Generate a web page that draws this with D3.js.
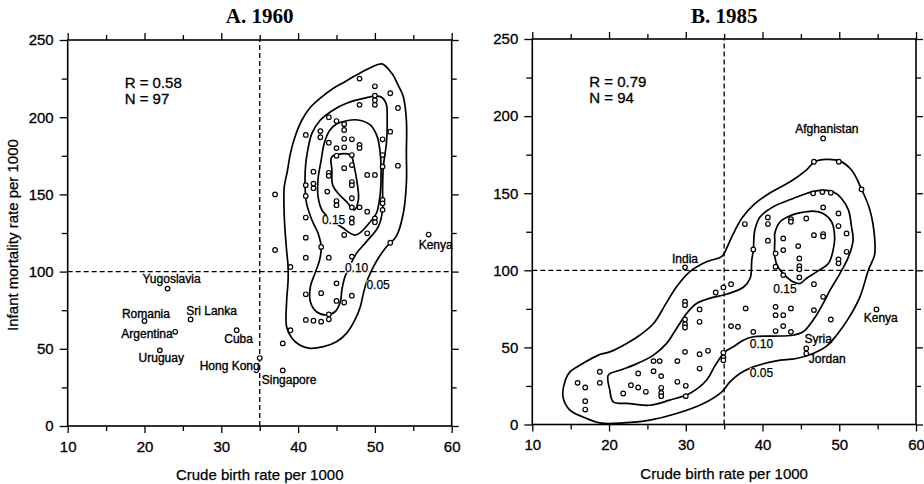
<!DOCTYPE html>
<html lang="en">
<head>
<meta charset="utf-8">
<script src="https://d3js.org/d3.v7.min.js"></script>
<style>
    body { margin: 0; background: #fff; }
    svg text { font-family: "Liberation Sans", Arial, Helvetica, sans-serif; fill: #000; }
    .title { font-family: "Liberation Serif", "Times New Roman", serif; font-weight: bold; font-size: 21px; }
    .stat { font-size: 15px; stroke: #000; stroke-width: 0.3px; }
    .axis-title { font-size: 15px; stroke: #000; stroke-width: 0.25px; }
    .tick text { stroke: #000; stroke-width: 0.3px; }
    .country { font-size: 12px; stroke: #000; stroke-width: 0.35px; }
    .level { font-size: 12px; fill: #000; stroke: #000; stroke-width: 0.25px; }
</style>
</head>
<body>
<svg id="chart" width="924" height="484"></svg>
<script>
// ---- data: [crude birth rate, infant mortality rate] ----
var pts1960 = [
    [37,150],[37,114],[38,53.5],[39,62],[39,103],
    [48,225],[50,220],[50,214],[50,211],[50,208],[52,215.5],[53,206],[48,208],
    [44,200],[45,197.5],[41,188.5],[42.9,191],[42.9,187],[46,195.5],[46,191.7],
    [44,183.5],[46,186],[47,185.7],[48,182],[48,180],[45,180],[46,180.5],
    [51,185.7],[52,190.6],[51,175.5],[53,168.6],[51,168],[45,175],[47,175.5],
    [46,167],[47,169],[42,164.7],[44,164],[44,162],[49,162.6],[50,162.6],
    [41,156],[42,154],[42,157],[41,149],[43.8,151.8],[47,158],[47,156],
    [45,145.7],[45,143],[47,147.5],[47,141.6],[48,141.6],[49,138.8],
    [51,146.4],[51,144.2],[51,140],[50,134.5],[50,132],[47,134.5],[47,131.7],
    [41,135],[46,123.7],[49,124.8],[52,118.7],[41,122],[43,116],[41,109],
    [44,109],[47,109.7],[45,92.4],[41,85.3],[43,86],[47,84.4],[45,81],[46,80],
    [44,72.3],[41,68.7],[42,68.2],[43,67.6],[44,69.1]
];
var named1960 = [
    ["Yugoslavia",23,89],["Romania",20,68],["Sri Lanka",26,69],["Argentina",24,61],
    ["Cuba",32,62],["Uruguay",22,49],["Hong Kong",35,44],["Singapore",38,36],["Kenya",57,124]
];
var pts1985 = [
    [46.7,170.4],[49.95,170.4],[52.9,152.5],[46.6,149.9],[47.8,150.7],[48.9,150.3],
    [47.9,140.8],[49.9,136.9],[37.7,130],[40.7,134.3],[40.7,130],[43.7,133.2],[43.7,131.5],
    [45.7,133.6],[49.9,128.7],[50.95,123.9],[40.7,119.2],[42.7,120.7],[44.65,115.7],
    [46.7,122.8],[47.9,123.5],[47.9,122],[38.8,113.5],[41.7,110.9],[42.7,113.1],
    [44.8,107.7],[50.95,112],[49.9,107],[49.9,104.5],[41.7,102.3],[44.8,102.7],[44.8,100.6],
    [42.7,96.9],[44.8,95.4],[46.7,91],[35.9,91],[34.9,88.9],[33.9,85.6],[47.9,82.8],
    [29.9,79.6],[29.9,77.4],[31.8,74.6],[37.8,75.3],[41.7,76.3],[43.7,75.3],[46.7,74.2],
    [41.7,70.9],[42.7,70.9],[29.9,68.1],[29.9,65.1],[29.9,62.9],[31.8,66.6],[48.9,68.1],
    [35.9,63.8],[36.8,63.4],[38.8,60.1],[41.7,60.6],[42.7,63.8],[43.7,60.1],
    [29.9,47.1],[31.8,45.6],[32.9,47.8],[34.9,46.5],[34.9,43.5],[34.9,41.7],
    [25.8,41.1],[26.6,41.1],[28.9,41.1],[31.8,36.3],[18.8,34.2],[18.8,27],[15.9,27],
    [16.9,24],[16.9,15.1],[16.9,9.7],[23.8,33.1],[25.8,34.6],[26.8,31.4],[22.85,25.5],
    [23.8,24],[24.8,21.2],[21.85,20.1],[26.8,23.8],[26.8,20.5],[26.8,18.4],
    [28.9,27.7],[30,25.1],[30,18.4]
];
var named1985 = [
    ["Afghanistan",47.9,185.5],["India",29.9,101.9],["Kenya",54.85,74.6],
    ["Syria",45.7,49.3],["Jordan",45.7,46]
];

// density contours, [birth, mortality]
var contourA05 = [[50.9,234.5],[49.4,232],[47.6,227.3],[46.1,223],[44.6,218.7],[42.85,212.2],[41.5,205.8],
    [40.5,198.2],[39.6,187.4],[39,176.6],[38.6,165],[38.2,155],[38.2,135.6],[38.5,114],[38.7,103],
    [38.7,94.6],[38.5,80],[38.5,64.3],[39.2,56.8],[40.2,52.5],[41.5,50.3],[43.3,51.4],[45,54.6],
    [46.3,60],[47.4,68.7],[48.1,77.3],[48.5,85.9],[48.9,93],[49.5,100],[50.3,107.5],[51.5,116.1],
    [52.8,123],[53.7,137.8],[54.1,157.2],[54.1,176.6],[54.1,198.2],[53.7,213.3],[53,221],[52.2,228.4]];
var contourA10 = [[41.3,179.8],[41.8,189.5],[42.9,198.2],[44.6,204.7],[46.3,209],[48.5,212.2],[50.7,213.3],
    [51.45,209],[51.6,198.2],[51.5,183.1],[51.1,168],[51,152.8],[51,139.9],[50.45,129.1],[48.9,119.4],
    [47.6,111.8],[46.8,104.3],[46.1,96.7],[45.7,88.1],[45.5,80.5],[44.8,74],[43.7,71.9],[42.4,74],
    [41.6,80.5],[41.6,90.2],[42.2,98.9],[42.8,107.5],[43,116.1],[42.6,124.8],[41.8,133.4],[41.1,144.2],
    [40.9,157.2],[41,170.1]];
var contourA15 = [[45,195.6],[46.3,197.7],[47.8,198.2],[49.4,195],[50.3,187.4],[50.7,176.6],[50.8,165.8],
    [50.7,150.7],[50.2,137.8],[49.4,132.3],[47.5,123.7],[45.7,128.7],[44.2,134],[43.1,139.9],[42.6,148.5],
    [42.6,160],[43,172],[43.4,183],[44.15,191.7]];
var contourA20 = [[44.4,174.4],[46.8,175.5],[47.3,168],[47.7,157.2],[47.85,146.4],[47.3,139.9],[46.3,145.3],
    [45.2,150.7],[44.5,156.1],[44.4,165.8]];

var contourB05 = [[46.8,170.4],[48.3,171.9],[50.1,170.8],[51.6,165],[52.9,152.7],[54,139],[54.6,121.7],
    [54.6,110],[53.8,100.1],[52.7,82.8],[51.2,68.8],[49.65,57.9],[48.35,50.8],[46.6,46.1],[44.4,42.8],
    [41.8,41.3],[38.8,37.4],[37.05,33.1],[35.75,27.6],[34.7,21.2],[32.3,13.6],[28.8,7.1],[25.3,2.8],
    [21.85,1],[18.8,1],[16.6,4.9],[14.9,9.3],[14,17.9],[14.3,28.7],[14.9,34.1],[16.6,39.6],[18.6,45],
    [20.1,47.1],[22.3,52.6],[24,57.9],[25.8,65.5],[27.3,77.4],[28.8,89.3],[30.5,99],[32.7,105.5],
    [34.7,109],[35.3,114],[36,121.7],[37.3,133.7],[38.8,142.3],[41,150.3],[43.6,157.4],[45.7,165]];
var contourB10 = [[38.8,113.1],[39,126.1],[39.7,134.7],[41.4,141.2],[44,146.6],[46.4,150.9],[47.9,152],
    [49.2,150.9],[50.3,146.6],[51.2,139],[51.6,128.2],[51.8,119.6],[51.2,108.7],[50.1,98],[48.8,87.1],
    [47.9,78.5],[46.6,67.7],[45.3,60.1],[44,57.9],[41.4,57.3],[38.8,56.9],[37.5,54.7],[36.2,50.4],
    [35.1,47.1],[33.8,38],[32.7,28.7],[30.5,20.1],[27.9,15.8],[25.3,12.5],[22.7,13.6],[20.55,14.7],
    [20.1,22.3],[19.9,32],[21.4,35.2],[23.2,38.5],[25.8,45],[27.5,52.6],[28.8,62.3],[30.1,72],
    [31.4,78.5],[33.1,81.8],[35.3,84.5],[37.5,89],[38.4,95],[38.6,106.6]];
var contourB15 = [[41.6,108.7],[41.6,119.6],[41.6,123.9],[42.3,131.5],[43.8,135.8],[44.9,137.3],[46.6,138.4],
    [47.9,136.9],[49,131.5],[49.4,121.7],[49.2,113.1],[48.6,104.5],[47.05,99],[45.7,94.7],[44.9,91.5],
    [44,92.5],[42.9,96.9],[42,102.3]];

var levels1960 = ["0.05","0.10","0.15"];
var levels1985 = ["0.05","0.10","0.15"];
var stats1960 = ["R = 0.58","N = 97"];
var stats1985 = ["R = 0.79","N = 94"];

// ---- layout (pixels) ----
var levelPos1960 = [[48.9,88.5],[46.1,100],[43.1,130.8]];
var levelPos1985 = [[38.35,30.9],[38.35,49.3],[41.4,85]];
var labelOffsets = {
    "1960": {
        "Yugoslavia":[-25,-5.5,"start"], "Romania":[-22.6,-3.4,"start"], "Sri Lanka":[-4.3,-4,"start"],
        "Argentina":[-2.5,6.6,"end"], "Cuba":[-12.4,12.6,"start"], "Uruguay":[-21.3,11.7,"start"],
        "Hong Kong":[0,12.3,"end"], "Singapore":[-21,13.3,"start"], "Kenya":[-10,14,"start"]
    },
    "1985": {
        "Afghanistan":[3.7,-5,"middle"], "India":[0,-4.3,"middle"], "Kenya":[-12.7,12.4,"start"],
        "Syria":[-1.7,-5,"start"], "Jordan":[2.6,9.4,"start"]
    }
};

var panels = [
    {key:"1960", title:"A. 1960", left:67.7, right:451.7, top:40, bottom:426, pts:pts1960, named:named1960,
     contours:[contourA05, contourA10, contourA15, contourA20], levels:levels1960, levelPos:levelPos1960,
     stats:stats1960, yTitle:true},
    {key:"1985", title:"B. 1985", left:532.3, right:916, top:39, bottom:424.5, pts:pts1985, named:named1985,
     contours:[contourB05, contourB10, contourB15], levels:levels1985, levelPos:levelPos1985,
     stats:stats1985, yTitle:false}
];

var svg = d3.select("#chart");

panels.forEach(function(p) {
    var g = svg.append("g");
    var x = d3.scaleLinear().domain([10, 60]).range([p.left, p.right]);
    var y = d3.scaleLinear().domain([0, 250]).range([p.bottom, p.top]);

    function axis(gen, tr, vals, size, pad, labels) {
        var a = gen.tickValues(vals).tickSize(size).tickPadding(pad)
            .tickFormat(labels ? d3.format("d") : "");
        var ag = g.append("g").attr("transform", tr).call(a);
        ag.select(".domain").remove();
        ag.selectAll(".tick line").attr("stroke", "#000").attr("stroke-width", 1.3);
        ag.attr("font-size", 15).attr("font-family", null);
    }
    var major = d3.range(10, 61, 10), minor = d3.range(15, 60, 10);
    var ymaj = d3.range(0, 251, 50), ymin = d3.range(25, 250, 50);
    axis(d3.axisBottom(x), "translate(0," + p.bottom + ")", major, 7, 8, true);
    axis(d3.axisBottom(x), "translate(0," + p.bottom + ")", minor, 5, 8, false);
    axis(d3.axisTop(x), "translate(0," + p.top + ")", major, 7, 3, false);
    axis(d3.axisTop(x), "translate(0," + p.top + ")", minor, 5, 3, false);
    axis(d3.axisLeft(y), "translate(" + p.left + ",0)", ymaj, 8, 6, true);
    axis(d3.axisLeft(y), "translate(" + p.left + ",0)", ymin, 6, 6, false);
    axis(d3.axisRight(y), "translate(" + p.right + ",0)", ymaj, 7, 3, false);
    axis(d3.axisRight(y), "translate(" + p.right + ",0)", ymin, 5, 3, false);

    g.append("rect")
        .attr("x", p.left).attr("y", p.top)
        .attr("width", p.right - p.left).attr("height", p.bottom - p.top)
        .attr("fill", "none").attr("stroke", "#000").attr("stroke-width", 1.6);

    // reference lines at 35 births and 100 deaths
    g.append("line")
        .attr("x1", x(35)).attr("x2", x(35)).attr("y1", y(0)).attr("y2", y(250))
        .attr("stroke", "#000").attr("stroke-width", 1.3).attr("stroke-dasharray", "5,3");
    g.append("line")
        .attr("x1", x(10)).attr("x2", x(60)).attr("y1", y(100)).attr("y2", y(100))
        .attr("stroke", "#000").attr("stroke-width", 1.3).attr("stroke-dasharray", "5,3");

    var line = d3.line()
        .x(function(d) { return x(d[0]); })
        .y(function(d) { return y(d[1]); })
        .curve(d3.curveCatmullRomClosed.alpha(0.5));

    g.selectAll("path.contour")
        .data(p.contours)
        .enter().append("path")
        .attr("class", "contour")
        .attr("d", line)
        .attr("fill", "none").attr("stroke", "#000").attr("stroke-width", 1.7);

    // contour level labels sit on a white patch that breaks the line
    var lv = g.selectAll("g.level")
        .data(p.levels)
        .enter().append("g")
        .attr("class", "level-g");
    var lvText = lv.append("text")
        .attr("class", "level")
        .attr("x", function(d, i) { return x(p.levelPos[i][0]); })
        .attr("y", function(d, i) { return y(p.levelPos[i][1]); })
        .text(function(d) { return d; });
    lvText.each(function() {
        var b = this.getBBox();
        d3.select(this.parentNode).insert("rect", "text")
            .attr("x", b.x).attr("y", b.y + 2)
            .attr("width", b.width).attr("height", b.height - 4)
            .attr("fill", "#fff");
    });

    var all = p.pts.concat(p.named.map(function(d) { return [d[1], d[2]]; }));
    g.selectAll("circle")
        .data(all)
        .enter().append("circle")
        .attr("cx", function(d) { return x(d[0]); })
        .attr("cy", function(d) { return y(d[1]); })
        .attr("r", 2.3)
        .attr("fill", "#fff").attr("stroke", "#000").attr("stroke-width", 1.2);

    var offs = labelOffsets[p.key];
    g.selectAll("text.country")
        .data(p.named)
        .enter().append("text")
        .attr("class", "country")
        .attr("x", function(d) { return x(d[1]) + offs[d[0]][0]; })
        .attr("y", function(d) { return y(d[2]) + offs[d[0]][1]; })
        .attr("text-anchor", function(d) { return offs[d[0]][2]; })
        .text(function(d) { return d[0]; });

    g.selectAll("text.stat")
        .data(p.stats)
        .enter().append("text")
        .attr("class", "stat")
        .attr("x", p.left + 57)
        .attr("y", function(d, i) { return p.top + 47.5 + i * 16; })
        .text(function(d) { return d; });

    g.append("text")
        .attr("class", "title")
        .attr("x", (p.left + p.right) / 2)
        .attr("y", 23)
        .attr("text-anchor", "middle")
        .text(p.title);

    g.append("text")
        .attr("class", "axis-title")
        .attr("x", (p.left + p.right) / 2)
        .attr("y", p.bottom + 54)
        .attr("text-anchor", "middle")
        .text("Crude birth rate per 1000");

    if (p.yTitle) {
        g.append("text")
            .attr("class", "axis-title")
            .attr("transform", "translate(17.5," + ((p.top + p.bottom) / 2 + 2) + ") rotate(-90)")
            .attr("text-anchor", "middle")
            .text("Infant mortality rate per 1000");
    }
});
</script>
</body>
</html>
